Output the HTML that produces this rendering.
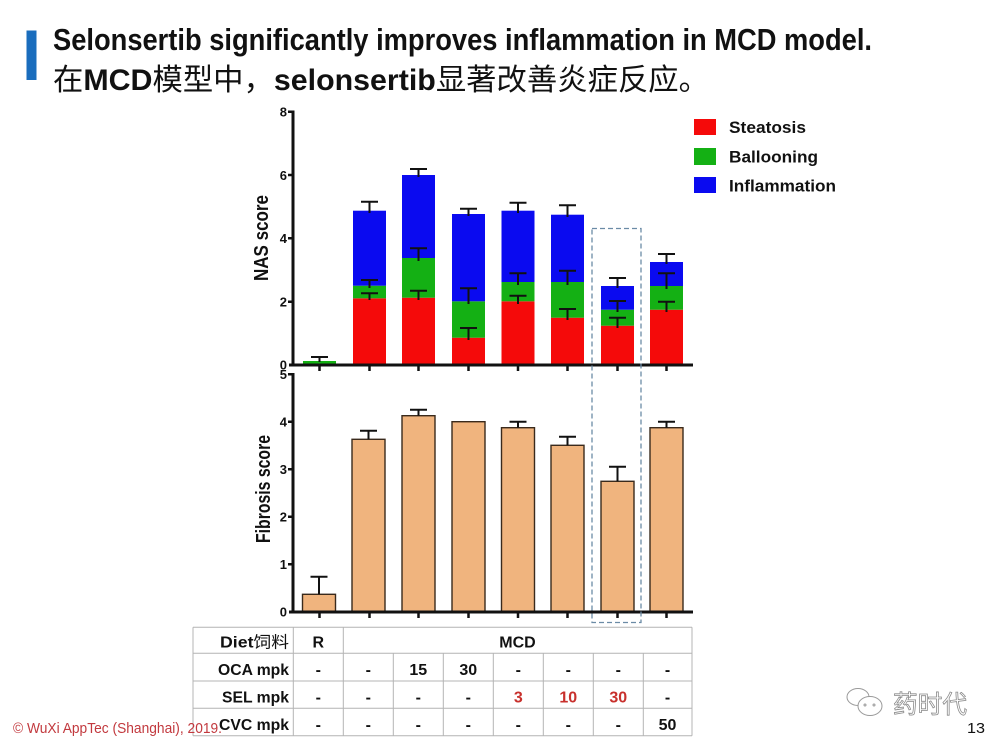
<!DOCTYPE html>
<html><head><meta charset="utf-8"><style>
html,body{margin:0;padding:0;background:#fff;}
svg{display:block;}
text{font-family:"Liberation Sans","Noto Sans CJK SC",sans-serif;}
</style></head><body>
<svg width="1000" height="750" viewBox="0 0 1000 750" xmlns="http://www.w3.org/2000/svg">
<rect width="1000" height="750" fill="#fff"/>
<!-- title -->
<rect x="26.5" y="30.5" width="10" height="49.5" fill="#1a6dbd"/>
<text x="53" y="50" font-size="31" font-weight="bold" textLength="819" lengthAdjust="spacingAndGlyphs" fill="#111">Selonsertib significantly improves inflammation in MCD model.</text>
<text x="53" y="90" font-size="30" textLength="656" lengthAdjust="spacingAndGlyphs" fill="#111"><tspan font-family="Noto Sans CJK SC, sans-serif">在</tspan><tspan font-weight="bold">MCD</tspan><tspan font-family="Noto Sans CJK SC, sans-serif">模型中，</tspan><tspan font-weight="bold">selonsertib</tspan><tspan font-family="Noto Sans CJK SC, sans-serif">显著改善炎症反应。</tspan></text>

<!-- top chart bars -->
<g>
<!-- bar1 -->
<rect x="303" y="361" width="33" height="4" fill="#14b014"/>
<!-- bar2 -->
<rect x="353" y="298.3" width="33" height="66.7" fill="#f50a0a"/>
<rect x="353" y="285.7" width="33" height="12.6" fill="#14b014"/>
<rect x="353" y="210.7" width="33" height="75" fill="#0a0af0"/>
<!-- bar3 -->
<rect x="402" y="297.7" width="33" height="67.3" fill="#f50a0a"/>
<rect x="402" y="258" width="33" height="39.7" fill="#14b014"/>
<rect x="402" y="175" width="33" height="83" fill="#0a0af0"/>
<!-- bar4 -->
<rect x="452" y="337.7" width="33" height="27.3" fill="#f50a0a"/>
<rect x="452" y="301.3" width="33" height="36.4" fill="#14b014"/>
<rect x="452" y="214" width="33" height="87.3" fill="#0a0af0"/>
<!-- bar5 -->
<rect x="501.5" y="301.3" width="33" height="63.7" fill="#f50a0a"/>
<rect x="501.5" y="282" width="33" height="19.3" fill="#14b014"/>
<rect x="501.5" y="210.7" width="33" height="71.3" fill="#0a0af0"/>
<!-- bar6 -->
<rect x="551" y="317.7" width="33" height="47.3" fill="#f50a0a"/>
<rect x="551" y="282" width="33" height="35.7" fill="#14b014"/>
<rect x="551" y="214.7" width="33" height="67.3" fill="#0a0af0"/>
<!-- bar7 -->
<rect x="601" y="325.7" width="33" height="39.3" fill="#f50a0a"/>
<rect x="601" y="309.7" width="33" height="16" fill="#14b014"/>
<rect x="601" y="286" width="33" height="23.7" fill="#0a0af0"/>
<!-- bar8 -->
<rect x="650" y="309.7" width="33" height="55.3" fill="#f50a0a"/>
<rect x="650" y="286" width="33" height="23.7" fill="#14b014"/>
<rect x="650" y="262" width="33" height="24" fill="#0a0af0"/>
</g>
<!-- top error bars -->
<g stroke="#111" stroke-width="2" fill="none">
<path d="M319.5 362V357M311 357H328"/>
<path d="M369.5 300V293.3M361 293.3H378 M369.5 288V280M361 280H378 M369.5 213V201.7M361 201.7H378"/>
<path d="M418.5 300V290.7M410 290.7H427 M418.5 261V248.3M410 248.3H427 M418.5 177V169M410 169H427"/>
<path d="M468.5 340V328M460 328H477 M468.5 304V288.3M460 288.3H477 M468.5 216V208.7M460 208.7H477"/>
<path d="M518 304V295.7M509.5 295.7H526.5 M518 285V273.3M509.5 273.3H526.5 M518 213V202.7M509.5 202.7H526.5"/>
<path d="M567.5 320V309M559 309H576 M567.5 285V270.7M559 270.7H576 M567.5 217V205.3M559 205.3H576"/>
<path d="M617.5 328V317.7M609 317.7H626 M617.5 312V301M609 301H626 M617.5 288V278M609 278H626"/>
<path d="M666.5 312V301.7M658 301.7H675 M666.5 289V273.3M658 273.3H675 M666.5 264V254M658 254H675"/>
</g>
<!-- top axes -->
<g stroke="#111" fill="none">
<path d="M293 110.5V366" stroke-width="3"/>
<path d="M289 365H693" stroke-width="3"/>
<path d="M288 111.7H293M288 175H293M288 238.3H293M288 301.7H293" stroke-width="2.5"/>
<path d="M319.5 365V371M369.5 365V371M418.5 365V371M468.5 365V371M518 365V371M567.5 365V371M617.5 365V371M666.5 365V371" stroke-width="2.5"/>
</g>
<g font-size="13" font-weight="bold" text-anchor="end" fill="#111">
<text x="287" y="116.5">8</text>
<text x="287" y="179.8">6</text>
<text x="287" y="243">4</text>
<text x="287" y="306.5">2</text>
<text x="287" y="369.5">0</text>
</g>
<text transform="translate(268,238) rotate(-90)" font-size="20" font-weight="bold" text-anchor="middle" textLength="86" lengthAdjust="spacingAndGlyphs" fill="#111">NAS score</text>

<!-- legend -->
<rect x="694" y="119" width="22" height="16" fill="#f50a0a"/>
<rect x="694" y="148" width="22" height="17" fill="#14b014"/>
<rect x="694" y="177" width="22" height="16" fill="#0a0af0"/>
<g font-size="17" font-weight="bold" fill="#111">
<text x="729" y="133" textLength="77" lengthAdjust="spacingAndGlyphs">Steatosis</text>
<text x="729" y="162.5" textLength="89" lengthAdjust="spacingAndGlyphs">Ballooning</text>
<text x="729" y="191.5" textLength="107" lengthAdjust="spacingAndGlyphs">Inflammation</text>
</g>

<!-- bottom chart -->
<g fill="#f0b47e" stroke="#3a2a1c" stroke-width="1.4">
<rect x="302.5" y="594.3" width="33" height="17.4"/>
<rect x="352" y="439.3" width="33" height="172.4"/>
<rect x="402" y="415.7" width="33" height="196"/>
<rect x="452" y="421.7" width="33" height="190"/>
<rect x="501.5" y="427.7" width="33" height="184"/>
<rect x="551" y="445.3" width="33" height="166.4"/>
<rect x="601" y="481.3" width="33" height="130.4"/>
<rect x="650" y="427.7" width="33" height="184"/>
</g>
<g stroke="#111" stroke-width="2" fill="none">
<path d="M319 594.3V576.7M310.5 576.7H327.5"/>
<path d="M368.5 439.3V430.7M360 430.7H377"/>
<path d="M418.5 415.7V409.7M410 409.7H427"/>
<path d="M518 427.7V421.7M509.5 421.7H526.5"/>
<path d="M567.5 445.3V436.7M559 436.7H576"/>
<path d="M617.5 481.3V466.7M609 466.7H626"/>
<path d="M666.5 427.7V421.7M658 421.7H675"/>
</g>
<g stroke="#111" fill="none">
<path d="M293 373V613" stroke-width="3"/>
<path d="M289 612H693" stroke-width="3"/>
<path d="M288 374.2H293M288 421.7H293M288 469.2H293M288 516.7H293M288 564.2H293" stroke-width="2.5"/>
<path d="M319.5 612V618M369.5 612V618M418.5 612V618M468.5 612V618M518 612V618M567.5 612V618M617.5 612V618M666.5 612V618" stroke-width="2.5"/>
</g>
<g font-size="13" font-weight="bold" text-anchor="end" fill="#111">
<text x="287" y="379">5</text>
<text x="287" y="426.5">4</text>
<text x="287" y="474">3</text>
<text x="287" y="521.5">2</text>
<text x="287" y="569">1</text>
<text x="287" y="616.5">0</text>
</g>
<text transform="translate(270,489) rotate(-90)" font-size="20" font-weight="bold" text-anchor="middle" textLength="108" lengthAdjust="spacingAndGlyphs" fill="#111">Fibrosis score</text>

<!-- dashed box -->
<rect x="592" y="228.5" width="49" height="394" fill="none" stroke="#6b8ba6" stroke-width="1.3" stroke-dasharray="5,3"/>

<!-- table -->
<g stroke="#b4b4b4" stroke-width="1" fill="none">
<path d="M193 627.3H692M193 653.3H692M193 681H692M193 708.3H692M193 735.7H692"/>
<path d="M193 627.3V735.7M293.3 627.3V735.7M343.3 627.3V735.7M692 627.3V735.7"/>
<path d="M393.3 653.3V735.7M443.3 653.3V735.7M493.3 653.3V735.7M543.3 653.3V735.7M593.3 653.3V735.7M643.3 653.3V735.7"/>
</g>
<g font-size="16" font-weight="bold" fill="#111" text-anchor="end">
<text x="289" y="647.5" textLength="69" lengthAdjust="spacingAndGlyphs">Diet<tspan font-weight="normal" font-family="Noto Sans CJK SC, sans-serif">饲料</tspan></text>
<text x="289" y="675" textLength="71" lengthAdjust="spacingAndGlyphs">OCA mpk</text>
<text x="289" y="702.7" textLength="67" lengthAdjust="spacingAndGlyphs">SEL mpk</text>
<text x="289" y="730" textLength="70" lengthAdjust="spacingAndGlyphs">CVC mpk</text>
</g>
<g font-size="16" font-weight="bold" fill="#111" text-anchor="middle">
<text x="318.3" y="647.5">R</text>
<text x="517.5" y="647.5">MCD</text>
<!-- OCA row -->
<text x="318.3" y="675">-</text><text x="368.3" y="675">-</text><text x="418.3" y="675">15</text><text x="468.3" y="675">30</text><text x="518.3" y="675">-</text><text x="568.3" y="675">-</text><text x="618.3" y="675">-</text><text x="667.5" y="675">-</text>
<!-- SEL row -->
<text x="318.3" y="702.7">-</text><text x="368.3" y="702.7">-</text><text x="418.3" y="702.7">-</text><text x="468.3" y="702.7">-</text><text x="518.3" y="702.7" fill="#c8302c">3</text><text x="568.3" y="702.7" fill="#c8302c">10</text><text x="618.3" y="702.7" fill="#c8302c">30</text><text x="667.5" y="702.7">-</text>
<!-- CVC row -->
<text x="318.3" y="730">-</text><text x="368.3" y="730">-</text><text x="418.3" y="730">-</text><text x="468.3" y="730">-</text><text x="518.3" y="730">-</text><text x="568.3" y="730">-</text><text x="618.3" y="730">-</text><text x="667.5" y="730">50</text>
</g>

<!-- footer -->
<text x="13" y="733" font-size="15" fill="#c2393e" textLength="209" lengthAdjust="spacingAndGlyphs">© WuXi AppTec (Shanghai), 2019.</text>
<text x="967" y="733" font-size="15" fill="#111" textLength="18" lengthAdjust="spacingAndGlyphs">13</text>

<!-- watermark -->
<g fill="none" stroke="#9a9a9a" stroke-width="1">
<ellipse cx="858" cy="697" rx="11" ry="8.5"/>
<ellipse cx="870" cy="706" rx="12" ry="9.5" fill="#fff"/>
<circle cx="865" cy="705" r="1"/><circle cx="874" cy="705" r="1"/>
</g>
<text x="893" y="713" font-size="25" fill="#fff" stroke="#8a8a8a" stroke-width="0.8" font-family="Noto Sans CJK SC, sans-serif" textLength="74" lengthAdjust="spacingAndGlyphs">药时代</text>
</svg>
</body></html>
